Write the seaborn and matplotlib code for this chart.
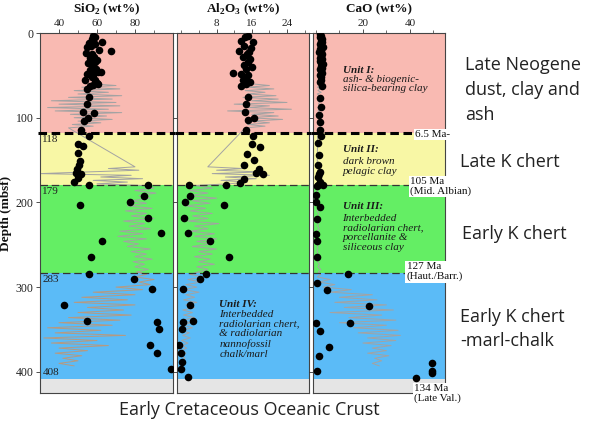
import numpy as np
import pandas as pd
import matplotlib
matplotlib.use('Agg')
import matplotlib.pyplot as plt
import seaborn as sns
from matplotlib.ticker import FixedLocator
from matplotlib.transforms import blended_transform_factory


# lithologic units (mbsf)
unit_top = [0, 118, 179, 283, 408]
unit_base = [118, 179, 283, 408, 425]
unit_color = ['#f9bab2', '#f8f7a5', '#64ee64', '#5bbbf7', '#e5e5e5']
boundary_depth = [118, 179, 283, 408]
boundary_label = ['118', '179', '283', '408']

# discrete samples
sio2_depth = [3, 5, 7, 11, 12, 13, 15, 17, 20, 21, 24, 25, 28, 30, 32, 34, 36, 38, 40, 42, 44, 46, 46, 48, 50,
              52, 55, 56, 59, 60, 61, 63, 66, 76, 84, 93, 95, 100, 104, 114, 122,
              131, 133, 142, 151, 156, 160, 165, 167, 171, 176, 180,
              180, 192, 199, 203, 218, 236, 245, 264, 284,
              291, 302, 321, 340, 341, 350, 368, 378, 397]
sio2 = [58, 59, 57.2, 62.8, 56, 59, 57, 54.6, 61.2, 67.2, 54.2, 57.2, 58.5, 56.3, 60, 59, 55.4, 57.5, 58, 59.5,
        56.3, 60.7, 62, 54.6, 58, 57.5, 53.7, 59, 59.8, 60.7, 58, 56.5, 54.6, 56, 54.6, 52.8, 58.4, 55.4, 53.3, 51.4, 56,
        49.8, 52.8, 50.2, 51, 50.7, 49.6, 49, 51.4, 50.2, 47.9, 56,
        87, 84.7, 77.4, 51, 87, 93.5, 62.4, 56.7, 55.6,
        79.5, 88.8, 42.8, 54.9, 91.7, 92.4, 87.9, 91.7, 98.8]

al2o3_depth = [3, 5, 9, 11, 15, 18, 21, 22, 25, 28, 31, 34, 38, 40, 43, 47, 48, 49, 52, 56, 58, 60, 62,
               76, 84, 93, 100, 103, 115, 122,
               131, 134, 143, 150, 156, 160, 165, 166, 172, 177,
               180, 180, 192, 200, 203, 218, 236, 245, 264, 284,
               291, 302, 321, 340, 341, 350, 368, 378, 388, 397, 406]
al2o3 = [15.1, 14.5, 13.5, 16.2, 14.3, 15.8, 13, 15.4, 14.8, 13.9, 15.6, 15.1, 14.3, 16, 14.7, 11.8, 13.5, 15.1,
         14.6, 13.9, 15.5, 14.7, 13.5,
         15.1, 14.7, 14.5, 16.6, 15.1, 14.7, 16.2,
         16, 17.9, 14.8, 16.6, 14.2, 17.6, 17, 18.6, 14.3, 13.4,
         1.8, 10.1, 2, 0.9, 9.6, 0.7, 1.4, 6.4, 10.9, 5.6,
         4.2, 0.4, 2, 2.6, 0.4, 0.1, -0.6, -0.1, 0.1, -0.1, 1.4]

cao_depth = [1, 3, 5, 7, 9, 11, 13, 15, 17, 19, 21, 23, 25, 27, 29, 31, 33, 35, 37, 39, 41, 43, 45, 47, 49,
             52, 55, 58, 62, 77, 87, 97, 105, 114, 122,
             130, 144, 156, 164, 166, 170, 176, 179, 180,
             181, 191, 199, 205, 220, 237, 246, 265, 284,
             295, 303, 322, 342, 342, 352, 371, 381, 399, 390, 399, 401, 407]
cao = [1.8, 2.2, 1.5, 2.4, 1.9, 2.6, 1.6, 2.1, 2.8, 1.7, 2.3, 1.4, 2.5, 2.0, 1.8, 2.7, 1.6, 2.2, 2.9, 1.9,
       2.4, 1.5, 2.1, 2.6, 1.8, 2.3, 2.0, 1.6, 2.5, 1.5, 2.0, 1.2, 1.8, 1.6, 2.2,
       1.0, 1.4, 0.8, 1.6, 1.2, 0.9, 1.5, 1.0, 3.1,
       0.2, 0.1, 0.0, 1.7, 0.2, 0.1, 0.2, 0.4, 13.6,
       0.4, 4.7, 22.6, 14.5, 0.0, 1.7, 5.5, 1.3, 0.2, 49.4, 49.4, 49.6, 42.6]

# continuous log traces (grey)
log_depth = [60, 62, 64, 66, 68, 70, 72, 74, 76, 78, 80, 82, 84, 86, 88, 90, 92, 94, 96, 98, 100, 102, 104, 106,
             108, 110, 112,
             158, 160, 162, 164, 166, 168, 170, 172, 174, 176, 178,
             180, 183, 186, 189, 192, 195, 198, 201, 204, 207, 210, 213, 216, 219, 222, 225, 228, 231, 234, 237,
             240, 243, 246, 249, 252, 255, 258, 261, 264, 267, 270, 273, 276, 279, 282,
             285, 288, 291, 294, 297, 300, 303, 306, 309, 312, 315, 318, 321, 324, 327, 330, 333, 336, 339, 342,
             345, 348, 351, 354, 357, 360, 363, 366, 369, 372, 375, 378, 381, 384, 387, 390, 393]
log_sio2 = [58, 70, 52, 72, 48, 66, 50, 73, 45, 68, 36, 70, 40, 72, 34, 66, 38, 73, 46, 65, 48, 68, 50, 62, 47, 58, 45,
            80, 66, 82, 55, 30, 78, 62, 84, 58, 76, 60,
            84, 90, 80, 91, 82, 88, 78, 86, 76, 89, 75, 86, 78, 90, 74, 85, 77, 88, 72, 84, 71, 86, 74, 82, 76, 88,
            78, 86, 80, 89, 79, 85, 80, 87, 81,
            86, 80, 90, 82, 88, 70, 84, 58, 80, 52, 76, 48, 80, 55, 74, 50, 78, 45, 72, 40, 68, 34, 62, 38, 75, 32,
            60, 36, 66, 40, 55, 38, 52, 42, 50, 40, 48]
log_al2o3 = [16, 20, 15, 21, 14.5, 19, 15, 21.5, 14, 22, 16, 24, 12, 20, 15, 25, 10.5, 21, 16, 22, 15, 23, 16, 20,
             15, 19, 14.5,
             6, 14, 8, 18, 7, 20, 10, 17, 9, 15, 11,
             3, 7, 2, 6, 1.5, 8, 2.5, 6.5, 1, 5.5, 2, 7, 2.5, 6, 1.5, 8.5, 3, 6, 2, 7.5, 3, 8, 3.5, 7, 2.5, 8, 4, 7,
             3, 6.5, 4, 7.5, 3.5, 6, 4,
             2, 5, 1.5, 4.5, 1, 3.5, 0.5, 4, 1, 3, 0.5, 3.5, 1, 3, 0.3, 2.5, 0.5, 3, 0.2, 2, 0.5, 2.5, 0, 1.8, 0.3,
             2, 0, 1.5, 0.2, 1.2, 0, 1, 0.2, 0.8, 0, 0.6, 0.1]
log_cao = [1.0, 2.0, 0.6, 1.8, 0.8, 2.2, 0.5, 1.6, 0.9, 2.0, 0.7, 1.5, 1.0, 2.4, 0.6, 1.7, 0.8, 2.0, 0.5, 1.4, 0.9,
           1.8, 0.6, 1.5, 0.8, 1.9, 0.7,
           0.5, 1.5, 0.8, 2.0, 0.6, 1.8, 0.9, 1.4, 0.5, 1.7, 0.8,
           0.6, 1.2, 0.4, 1.0, 0.5, 1.3, 0.3, 0.9, 0.6, 1.1, 0.4, 1.2, 0.5, 0.8, 0.3, 1.0, 0.6, 1.3, 0.4, 0.9, 0.5,
           1.1, 0.3, 1.2, 0.6, 0.8, 0.4, 1.0, 0.5, 1.3, 0.6, 1.5, 0.8, 2.0, 1.0,
           2, 0.5, 6, 1, 8, 3, 15, 6, 24, 10, 26, 8, 30, 12, 33, 6, 28, 14, 34, 10, 30, 16, 35, 18, 36, 22, 34, 20,
           32, 24, 30, 22, 31, 25, 28, 24, 27]

logs = pd.DataFrame({'depth': log_depth, 'SiO2': log_sio2, 'Al2O3': log_al2o3, 'CaO': log_cao})


sns.set_theme(style='white')
plt.rcParams['font.family'] = ['Liberation Serif', 'DejaVu Serif']
plt.rcParams['mathtext.fontset'] = 'custom'
plt.rcParams['mathtext.rm'] = 'Liberation Serif'
plt.rcParams['mathtext.bf'] = 'Liberation Serif:bold'

W, H = 596, 433
fig = plt.figure(figsize=(W / 100, H / 100), dpi=100)


def add_panel(left, right):
    return fig.add_axes([left / W, 1 - 393 / H, (right - left) / W, 360 / H])


def setup_panel(ax, xlim, major, minor, title, line_end=1.015):
    for top, base, c in zip(unit_top, unit_base, unit_color):
        ax.axhspan(top, base, color=c, lw=0, zorder=0)
    ax.axhline(118, xmin=-0.015, xmax=line_end, color='black', lw=2.2, ls=(0, (2.8, 1.5)),
               zorder=3, clip_on=False)
    for d in [179, 283]:
        ax.axhline(d, color='#333333', lw=0.9, ls=(0, (6, 3)), zorder=3)
    ax.set_xlim(*xlim)
    ax.set_ylim(425, 0)
    ax.xaxis.tick_top()
    ax.xaxis.set_major_locator(FixedLocator(major))
    ax.xaxis.set_minor_locator(FixedLocator(minor))
    ax.set_yticks([0, 100, 200, 300, 400])
    ax.set_xlabel('')
    ax.text(0.5, 1.066, title, transform=ax.transAxes, ha='center', va='center',
            fontweight='bold', fontsize=9.5, color='#111111')
    ax.tick_params(axis='both', which='major', direction='out', length=3, width=0.6,
                   labelsize=8, pad=0.5, colors='#333333', labelcolor='#222222')
    ax.tick_params(axis='x', which='minor', direction='out', length=2, width=0.5, colors='#333333')
    ax.tick_params(axis='x', top=True, bottom=False, which='both')
    ax.tick_params(axis='y', left=True, which='major', labelsize=8.5, pad=1.5)
    for s in ax.spines.values():
        s.set_color('#444444')
        s.set_linewidth(0.8)


def draw_log(ax, col, color_low='#a0a0a0'):
    upper = logs[logs['depth'] <= 285]
    lower = logs[logs['depth'] >= 282]
    sns.lineplot(x=upper[col], y=upper['depth'], sort=False, estimator=None, orient='y',
                 color='#a3a3a3', linewidth=0.7, ax=ax, zorder=1)
    sns.lineplot(x=lower[col], y=lower['depth'], sort=False, estimator=None, orient='y',
                 color=color_low, linewidth=0.7, ax=ax, zorder=1)


ax1 = add_panel(40, 173)
ax2 = add_panel(177, 309)
ax3 = add_panel(313, 445)

# SiO2
draw_log(ax1, 'SiO2', color_low='#b59a82')
sns.scatterplot(x=sio2, y=sio2_depth, color='black', s=30, linewidth=0, ax=ax1, zorder=4, legend=False)
setup_panel(ax1, (30, 100), [40, 60, 80], [50, 70, 90], r'SiO$_\mathbf{2}$ (wt%)')
ax1.set_ylabel('Depth (mbsf)', fontweight='bold', fontsize=9.5, labelpad=3, color='#111111')
for d, lab in zip(boundary_depth, boundary_label):
    if d == 408:
        ax1.text(31.2, d - 1.5, lab, fontsize=8, ha='left', va='bottom', color='#222222', zorder=5)
    else:
        ax1.text(31.2, d + 2.5, lab, fontsize=8, ha='left', va='top', color='#222222', zorder=5)

# Al2O3
draw_log(ax2, 'Al2O3', color_low='#a3a3a3')
sns.scatterplot(x=al2o3, y=al2o3_depth, color='black', s=30, linewidth=0, ax=ax2, zorder=4, legend=False)
setup_panel(ax2, (-1, 29), [8, 16, 24], [0, 4, 12, 20, 28], r'Al$_\mathbf{2}$O$_\mathbf{3}$ (wt%)')
ax2.set_ylabel('')
ax2.tick_params(axis='y', labelleft=False)

# CaO
draw_log(ax3, 'CaO', color_low='#a3a3a3')
sns.scatterplot(x=cao, y=cao_depth, color='black', s=30, linewidth=0, ax=ax3, zorder=4, legend=False)
setup_panel(ax3, (-1.3, 55), [20, 40], [0, 10, 30, 50], 'CaO (wt%)', line_end=0.78)
ax3.set_ylabel('')
ax3.tick_params(axis='y', labelleft=False)

# unit descriptions
unit_kw = dict(fontsize=8, style='italic', color='#1a1a1a', ha='left', zorder=6, linespacing=1.1)
ax3.text(11.3, 44, 'Unit I:', fontweight='bold', va='center', **unit_kw)
ax3.text(11.3, 49, 'ash- & biogenic-\nsilica-bearing clay', va='top', **unit_kw)
ax3.text(11.3, 138, 'Unit II:', fontweight='bold', va='center', **unit_kw)
ax3.text(11.3, 146.5, 'dark brown\npelagic clay', va='top', **unit_kw)
ax3.text(11.3, 205, 'Unit III:', fontweight='bold', va='center', **unit_kw)
ax3.text(11.3, 213.5, 'Interbedded\nradiolarian chert,\nporcellanite &\nsiliceous clay', va='top', **unit_kw)
ax2.text(8.6, 320, 'Unit IV:', fontweight='bold', va='center', **unit_kw)
ax2.text(8.6, 327, 'Interbedded\nradiolarian chert,\n& radiolarian\nnannofossil\nchalk/marl', va='top', **unit_kw)

# ages at unit boundaries
trans = blended_transform_factory(ax3.transAxes, ax3.transData)
box = dict(boxstyle='square,pad=0.12', fc='white', ec='none')
age_kw = dict(transform=trans, fontsize=8, ha='left', va='center', color='#111111', bbox=box,
              zorder=7, linespacing=1.05, clip_on=False)
ax3.text(0.773, 120, '6.5 Ma-', **age_kw)
ax3.text(0.735, 181, '105 Ma\n(Mid. Albian)', **age_kw)
ax3.text(0.71, 282, '127 Ma\n(Haut./Barr.)', **age_kw)
ax3.text(0.765, 426, '134 Ma\n(Late Val.)', **age_kw)

# right-hand interpretation
side_kw = dict(fontsize=13, family='Open Sans', color='#222222', ha='left', va='center', linespacing=1.5)
fig.text(465 / W, 1 - 90 / H, 'Late Neogene\ndust, clay and\nash', **side_kw)
fig.text(460 / W, 1 - 162 / H, 'Late K chert', **side_kw)
fig.text(462 / W, 1 - 234 / H, 'Early K chert', **side_kw)
fig.text(460 / W, 1 - 329 / H, 'Early K chert\n-marl-chalk', **side_kw)
fig.text(249 / W, 1 - 410 / H, 'Early Cretaceous Oceanic Crust', fontsize=13, family='Open Sans',
         color='#222222', ha='center', va='center')

fig.savefig('out.png', dpi=100)
